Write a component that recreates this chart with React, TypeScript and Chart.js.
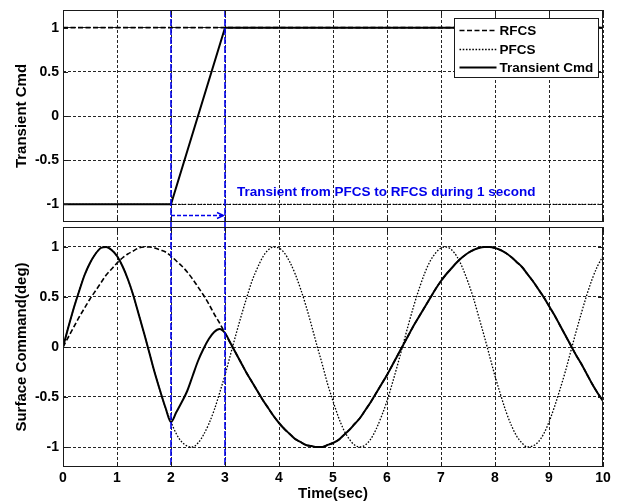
import React, { useEffect, useRef } from "react";
import { Chart, registerables } from "chart.js";

Chart.register(...registerables);

// ---------- data ----------
const X_TICKS = [0, 1, 2, 3, 4, 5, 6, 7, 8, 9, 10];
const Y_TICKS = [-1, -0.5, 0, 0.5, 1];

// top panel (Transient Cmd)
const TOP_TIME_TRANSIENT = [0, 2, 3, 10];
const TOP_TRANSIENT = [-1, -1, 1, 1];
const TOP_TIME_MODE = [0, 10];
const TOP_RFCS = [1, 1];
const TOP_PFCS = [-1, -1];

// bottom panel (Surface Command)
const TIME = [
  0, 0.1, 0.2, 0.3, 0.4, 0.5, 0.6, 0.7, 0.8, 0.9,
  1, 1.1, 1.2, 1.3, 1.4, 1.5, 1.6, 1.7, 1.8, 1.9,
  2, 2.1, 2.2, 2.3, 2.4, 2.5, 2.6, 2.7, 2.8, 2.9,
  3, 3.1, 3.2, 3.3, 3.4, 3.5, 3.6, 3.7, 3.8, 3.9,
  4, 4.1, 4.2, 4.3, 4.4, 4.5, 4.6, 4.7, 4.8, 4.9,
  5, 5.1, 5.2, 5.3, 5.4, 5.5, 5.6, 5.7, 5.8, 5.9,
  6, 6.1, 6.2, 6.3, 6.4, 6.5, 6.6, 6.7, 6.8, 6.9,
  7, 7.1, 7.2, 7.3, 7.4, 7.5, 7.6, 7.7, 7.8, 7.9,
  8, 8.1, 8.2, 8.3, 8.4, 8.5, 8.6, 8.7, 8.8, 8.9,
  9, 9.1, 9.2, 9.3, 9.4, 9.5, 9.6, 9.7, 9.8, 9.9,
  10,
];

const RFCS_CMD = [
  0.0, 0.1, 0.2, 0.3, 0.39, 0.48, 0.56, 0.64, 0.72, 0.78,
  0.84, 0.89, 0.93, 0.96, 0.99, 1.0, 1.0, 0.99, 0.97, 0.95,
  0.91, 0.86, 0.81, 0.75, 0.68, 0.6, 0.52, 0.43, 0.33, 0.24,
  0.14, 0.04, -0.06, -0.16, -0.26, -0.35, -0.44, -0.53, -0.61, -0.69,
  -0.76, -0.82, -0.87, -0.92, -0.95, -0.98, -0.99, -1.0, -1.0, -0.98,
  -0.96, -0.93, -0.88, -0.83, -0.77, -0.71, -0.63, -0.55, -0.46, -0.37,
  -0.28, -0.18, -0.08, 0.02, 0.12, 0.22, 0.31, 0.4, 0.49, 0.58,
  0.66, 0.73, 0.79, 0.85, 0.9, 0.94, 0.97, 0.99, 1.0, 1.0,
  0.99, 0.97, 0.94, 0.9, 0.85, 0.8, 0.73, 0.66, 0.58, 0.5,
  0.41, 0.32, 0.22, 0.12, 0.02, -0.08, -0.17, -0.27, -0.37, -0.46,
  -0.54,
];

const PFCS_CMD = [
  0.0, 0.2, 0.39, 0.56, 0.72, 0.84, 0.93, 0.99, 1.0, 0.97,
  0.91, 0.81, 0.68, 0.52, 0.33, 0.14, -0.06, -0.26, -0.44, -0.61,
  -0.75, -0.87, -0.95, -0.99, -1.0, -0.96, -0.88, -0.77, -0.63, -0.46,
  -0.28, -0.08, 0.12, 0.31, 0.49, 0.66, 0.79, 0.9, 0.97, 1.0,
  0.99, 0.94, 0.85, 0.73, 0.58, 0.41, 0.22, 0.02, -0.17, -0.37,
  -0.54, -0.7, -0.83, -0.92, -0.98, -1.0, -0.98, -0.92, -0.82, -0.69,
  -0.54, -0.36, -0.17, 0.03, 0.23, 0.42, 0.59, 0.74, 0.86, 0.94,
  0.99, 1.0, 0.97, 0.9, 0.79, 0.65, 0.49, 0.3, 0.11, -0.09,
  -0.29, -0.47, -0.64, -0.78, -0.89, -0.96, -1.0, -0.99, -0.95, -0.87,
  -0.75, -0.6, -0.43, -0.25, -0.05, 0.15, 0.34, 0.52, 0.68, 0.81,
  0.91,
];

const TRANSIENT_CMD = [
  0.0, 0.2, 0.39, 0.56, 0.72, 0.84, 0.93, 0.99, 1.0, 0.97,
  0.91, 0.81, 0.68, 0.52, 0.33, 0.14, -0.06, -0.26, -0.44, -0.61,
  -0.75, -0.65, -0.55, -0.44, -0.29, -0.14, -0.02, 0.08, 0.15, 0.18,
  0.14, 0.04, -0.06, -0.16, -0.26, -0.35, -0.44, -0.53, -0.61, -0.69,
  -0.76, -0.82, -0.87, -0.92, -0.95, -0.98, -0.99, -1.0, -1.0, -0.98,
  -0.96, -0.93, -0.88, -0.83, -0.77, -0.71, -0.63, -0.55, -0.46, -0.37,
  -0.28, -0.18, -0.08, 0.02, 0.12, 0.22, 0.31, 0.4, 0.49, 0.58,
  0.66, 0.73, 0.79, 0.85, 0.9, 0.94, 0.97, 0.99, 1.0, 1.0,
  0.99, 0.97, 0.94, 0.9, 0.85, 0.8, 0.73, 0.66, 0.58, 0.5,
  0.41, 0.32, 0.22, 0.12, 0.02, -0.08, -0.17, -0.27, -0.37, -0.46,
  -0.54,
];

// annotation
const MARK_TIMES = [2, 3];
const NOTE_TEXT = "Transient from PFCS to RFCS during 1 second";
const NOTE_X = 3.22;
const NOTE_Y = -0.86;
const ARROW_Y = -1.12;

const LEGEND_ORDER = ["RFCS", "PFCS", "Transient Cmd"];

// ---------- styles ----------
const FONT = "'Liberation Sans', Arial, Helvetica, sans-serif";
const BLUE = "rgb(0,0,235)";
const GRID_COLOR = "rgba(0,0,0,0.85)";
const GRID_DASH = [3, 2];
const STYLE: Record<string, { dash: number[]; width: number }> = {
  RFCS: { dash: [5, 2.5], width: 1.6 },
  PFCS: { dash: [1.6, 1.6], width: 1.3 },
  "Transient Cmd": { dash: [], width: 2 },
};

const pts = (xs: number[], ys: number[]) => xs.map((x, i) => ({ x, y: ys[i] }));

const setTicks = (vals: number[]) => (scale: any) => {
  scale.ticks = vals.map((v) => ({ value: v }));
};

function lineDs(label: string, xs: number[], ys: number[], smooth: boolean) {
  const s = STYLE[label];
  return {
    label,
    data: pts(xs, ys),
    borderColor: "#000",
    backgroundColor: "#000",
    borderWidth: s.width,
    borderDash: s.dash,
    pointRadius: 0,
    tension: 0,
    cubicInterpolationMode: smooth ? "monotone" : "default",
    fill: false,
  };
}

function yScale(title: string) {
  return {
    type: "linear",
    min: -1.2,
    max: 1.2,
    afterBuildTicks: setTicks(Y_TICKS),
    afterFit: (s: any) => {
      s.width = 63;
      s.paddingTop = 0;
      s.paddingBottom = 0;
    },
    ticks: {
      color: "#000",
      font: { family: FONT, size: 14, weight: "bold" },
      padding: 4,
      callback: (v: any) => String(v),
    },
    grid: { color: GRID_COLOR, drawTicks: false, lineWidth: 1 },
    border: { display: false, dash: GRID_DASH },
    title: {
      display: true,
      text: title,
      color: "#000",
      font: { family: FONT, size: 15, weight: "bold" },
      padding: { top: 13, bottom: 0 },
    },
  };
}

function xScale(showLabels: boolean) {
  return {
    type: "linear",
    min: 0,
    max: 10,
    afterBuildTicks: setTicks(X_TICKS),
    afterFit: (s: any) => {
      s.height = showLabels ? 37 : 0;
      s.paddingLeft = 0;
      s.paddingRight = 0;
    },
    ticks: {
      display: showLabels,
      color: "#000",
      font: { family: FONT, size: 14, weight: "bold" },
      padding: 3,
      maxRotation: 0,
      callback: (v: any) => String(v),
    },
    grid: { color: GRID_COLOR, drawTicks: false, lineWidth: 1 },
    border: { display: false, dash: GRID_DASH },
    title: {
      display: showLabels,
      text: "Time(sec)",
      color: "#000",
      font: { family: FONT, size: 15, weight: "bold" },
      padding: { top: 0, bottom: 1 },
    },
  };
}

function drawFrame(chart: any) {
  const { ctx, chartArea: a, scales } = chart;
  ctx.save();
  ctx.setLineDash([]);
  ctx.strokeStyle = "#1a1a1a";
  ctx.lineWidth = 1;
  ctx.strokeRect(a.left + 0.5, a.top + 0.5, a.right - a.left - 1, a.bottom - a.top - 1);
  // inner tick marks
  ctx.beginPath();
  for (const v of Y_TICKS) {
    const py = Math.round(scales.y.getPixelForValue(v)) + 0.5;
    ctx.moveTo(a.left, py);
    ctx.lineTo(a.left + 5, py);
    ctx.moveTo(a.right, py);
    ctx.lineTo(a.right - 5, py);
  }
  for (const v of X_TICKS) {
    const px = Math.round(scales.x.getPixelForValue(v)) + 0.5;
    ctx.moveTo(px, a.bottom);
    ctx.lineTo(px, a.bottom - 5);
    ctx.moveTo(px, a.top);
    ctx.lineTo(px, a.top + 5);
  }
  ctx.stroke();
  ctx.restore();
}

function drawMarks(chart: any, y0: number, y1: number) {
  const { ctx, scales } = chart;
  ctx.save();
  ctx.strokeStyle = BLUE;
  ctx.lineWidth = 1.6;
  ctx.setLineDash([7, 2]);
  for (const v of MARK_TIMES) {
    const px = scales.x.getPixelForValue(v);
    ctx.beginPath();
    ctx.moveTo(px, y0);
    ctx.lineTo(px, y1);
    ctx.stroke();
  }
  ctx.restore();
}

const topDecor = {
  id: "topDecor",
  afterDatasetsDraw(chart: any) {
    const { ctx, chartArea: a, scales } = chart;
    drawMarks(chart, a.top, chart.height);
    // arrow
    const x0 = scales.x.getPixelForValue(MARK_TIMES[0]);
    const x1 = scales.x.getPixelForValue(MARK_TIMES[1]);
    const ay = Math.round(scales.y.getPixelForValue(ARROW_Y)) + 0.5;
    ctx.save();
    ctx.strokeStyle = BLUE;
    ctx.lineWidth = 1.4;
    ctx.setLineDash([4, 2]);
    ctx.beginPath();
    ctx.moveTo(x0, ay);
    ctx.lineTo(x1 - 2, ay);
    ctx.stroke();
    ctx.setLineDash([]);
    ctx.beginPath();
    ctx.moveTo(x1 - 8, ay - 3);
    ctx.lineTo(x1 - 1.5, ay);
    ctx.lineTo(x1 - 8, ay + 3);
    ctx.stroke();
    // note text
    ctx.fillStyle = BLUE;
    ctx.font = `bold 13.5px ${FONT}`;
    ctx.textAlign = "left";
    ctx.textBaseline = "middle";
    ctx.fillText(NOTE_TEXT, scales.x.getPixelForValue(NOTE_X), scales.y.getPixelForValue(NOTE_Y));
    ctx.restore();
  },
  afterDraw(chart: any) {
    drawFrame(chart);
    const { ctx, chartArea: a } = chart;
    const w = 144;
    const h = 59;
    const lx = Math.round(a.right - 5 - w) + 0.5;
    const ly = Math.round(a.top + 8) + 0.5;
    ctx.save();
    ctx.fillStyle = "#fff";
    ctx.fillRect(lx, ly, w, h);
    ctx.strokeStyle = "#1a1a1a";
    ctx.lineWidth = 1;
    ctx.setLineDash([]);
    ctx.strokeRect(lx, ly, w, h);
    ctx.font = `bold 13.5px ${FONT}`;
    ctx.textAlign = "left";
    ctx.textBaseline = "middle";
    const rows = [11, 30, 48.5];
    LEGEND_ORDER.forEach((label, i) => {
      const ds = chart.data.datasets.find((d: any) => d.label === label);
      const cy = Math.round(ly + rows[i]) + 0.5;
      ctx.strokeStyle = "#000";
      ctx.lineWidth = ds.borderWidth;
      ctx.setLineDash(ds.borderDash);
      ctx.beginPath();
      ctx.moveTo(lx + 5, cy);
      ctx.lineTo(lx + 42, cy);
      ctx.stroke();
      ctx.fillStyle = "#000";
      ctx.fillText(label, lx + 45, cy + 0.5);
    });
    ctx.restore();
  },
};

const bottomDecor = {
  id: "bottomDecor",
  afterDatasetsDraw(chart: any) {
    drawMarks(chart, 0, chart.chartArea.bottom);
  },
  afterDraw(chart: any) {
    drawFrame(chart);
  },
};

function baseOptions(padding: any, x: any, y: any) {
  return {
    responsive: false,
    maintainAspectRatio: false,
    animation: false,
    events: [],
    layout: { padding },
    plugins: { legend: { display: false }, tooltip: { enabled: false } },
    scales: { x, y },
  };
}

export default function App() {
  const topRef = useRef<HTMLCanvasElement>(null);
  const botRef = useRef<HTMLCanvasElement>(null);

  useEffect(() => {
    const top = new Chart(topRef.current as HTMLCanvasElement, {
      type: "line",
      data: {
        datasets: [
          lineDs("Transient Cmd", TOP_TIME_TRANSIENT, TOP_TRANSIENT, false),
          lineDs("RFCS", TOP_TIME_MODE, TOP_RFCS, false),
          lineDs("PFCS", TOP_TIME_MODE, TOP_PFCS, false),
        ],
      },
      options: baseOptions({ left: 0, right: 15, top: 10, bottom: 2 }, xScale(false), yScale("Transient Cmd")) as any,
      plugins: [topDecor],
    } as any);

    const bot = new Chart(botRef.current as HTMLCanvasElement, {
      type: "line",
      data: {
        datasets: [
          lineDs("Transient Cmd", TIME, TRANSIENT_CMD, true),
          lineDs("RFCS", TIME, RFCS_CMD, true),
          lineDs("PFCS", TIME, PFCS_CMD, true),
        ],
      },
      options: baseOptions({ left: 0, right: 15, top: 3, bottom: 0 }, xScale(true), yScale("Surface Command(deg)")) as any,
      plugins: [bottomDecor],
    } as any);

    return () => {
      top.destroy();
      bot.destroy();
    };
  }, []);

  return (
    <div style={{ position: "fixed", left: 0, top: 0, width: 618, height: 504, background: "#fff" }}>
      <canvas
        ref={topRef}
        width={618}
        height={224}
        style={{ position: "absolute", left: 0, top: 0, width: 618, height: 224 }}
      />
      <canvas
        ref={botRef}
        width={618}
        height={280}
        style={{ position: "absolute", left: 0, top: 224, width: 618, height: 280 }}
      />
    </div>
  );
}
